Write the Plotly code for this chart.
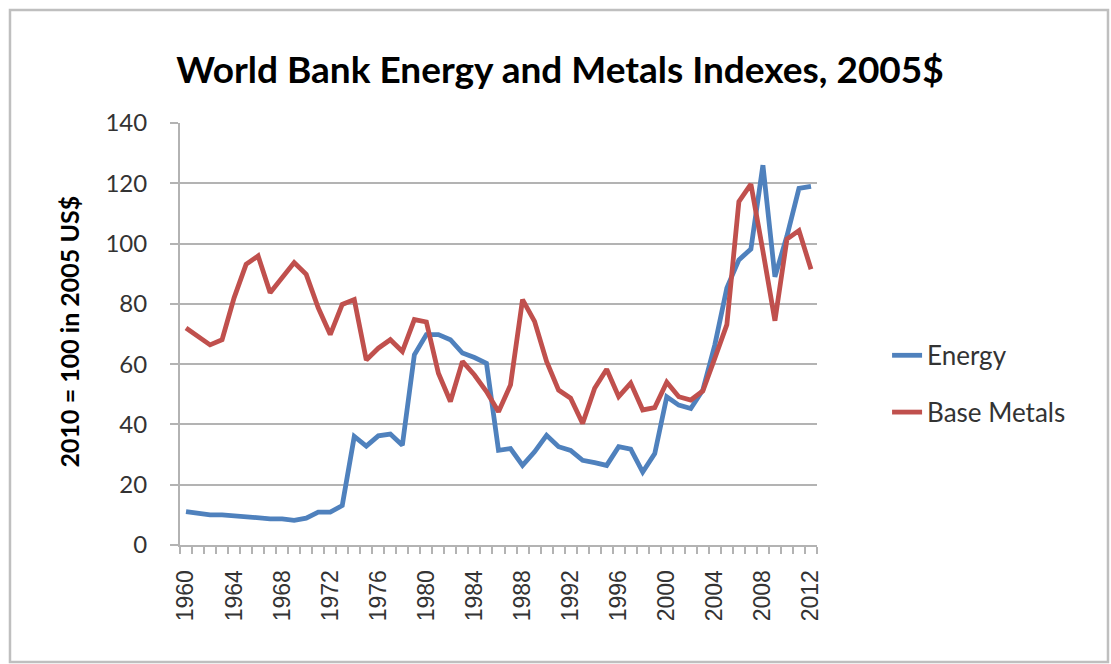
import plotly.graph_objects as go

years = list(range(1960, 2013))

energy = [11.1, 10.5, 10.0, 10.0, 9.6, 9.3, 8.8, 8.7, 8.7, 8.2,
          8.9, 10.9, 10.9, 13.1, 36.0, 32.8, 36.2, 36.8, 33.1, 63.1,
          69.8, 69.8, 68.1, 63.7, 62.2, 60.3, 31.4, 32.0, 26.4, 30.9,
          36.4, 32.6, 31.4, 28.1, 27.3, 26.4, 32.6, 31.8, 24.2, 30.3,
          49.2, 46.4, 45.3, 51.4, 66.4, 85.3, 94.6, 98.2, 126.0, 89.0,
          102.5, 118.3, 119.0]

base_metals = [72.0, 69.2, 66.4, 68.1, 82.0, 93.1, 95.9, 83.7, 88.7, 93.7,
               89.8, 78.7, 69.8, 79.8, 81.4, 61.4, 65.3, 68.1, 64.2, 74.8,
               74.0, 57.0, 47.6, 60.9, 56.4, 50.9, 44.2, 53.1, 81.4, 74.2,
               60.9, 51.4, 48.7, 40.3, 52.0, 58.3, 49.2, 53.7, 44.8, 45.6,
               54.0, 49.2, 48.1, 51.1, 62.0, 73.1, 113.9, 119.7, 97.5, 74.4,
               101.5, 104.3, 91.5]

x_tick_years = list(range(1960, 2013, 4))
x_tick_labels = [str(y) for y in x_tick_years]
y_ticks = list(range(0, 141, 20))

title_text = "World Bank Energy and Metals Indexes, 2005$"
y_title_text = "2010 = 100 in 2005 US$"

fig = go.Figure()
fig.add_trace(go.Scatter(x=years, y=energy, mode="lines", name="Energy",
                         legendgroup="a",
                         line=dict(color="#4f81bd", width=4.8)))
fig.add_trace(go.Scatter(x=years, y=base_metals, mode="lines", name="Base Metals",
                         legendgroup="b",
                         line=dict(color="#c0504d", width=4.8)))

grid_c = "#b3b3b3"
fig.update_layout(
    width=1111, height=664,
    margin=dict(l=180, r=294, t=123, b=119),
    paper_bgcolor="white", plot_bgcolor="white",
    title=dict(text=title_text, x=0.504, xanchor="center", y=0.895, yanchor="middle",
               font=dict(family="Lato", size=37, color="black", weight="bold")),
    showlegend=True,
    legend=dict(x=1.11, xanchor="left", y=0.505, yanchor="top",
                font=dict(family="Lato", size=26, color="#333333"),
                traceorder="grouped", tracegroupgap=20,
                bgcolor="rgba(0,0,0,0)"),
    xaxis=dict(range=[1959.5, 2012.5], tickmode="array", tickvals=x_tick_years,
               ticktext=x_tick_labels, tickangle=-90, ticks="",
               ticklabelstandoff=14,
               tickfont=dict(family="Liberation Sans", size=23, color="#333333"),
               showgrid=False, showline=True, linecolor=grid_c, linewidth=2,
               zeroline=False,
               minor=dict(tickmode="linear", tick0=1959.5, dtick=1, ticks="outside",
                          ticklen=7, tickcolor=grid_c, tickwidth=1.5, showgrid=False)),
    yaxis=dict(range=[0, 140], tickmode="array", tickvals=y_ticks,
               ticks="outside", ticklen=8, tickcolor=grid_c, tickwidth=1.5,
               ticklabelstandoff=18,
               tickfont=dict(family="Lato", size=24, color="#333333"),
               showgrid=True, gridcolor=grid_c, gridwidth=2,
               showline=True, linecolor=grid_c, linewidth=2, zeroline=False),
    annotations=[dict(text=y_title_text, textangle=-90, xref="paper", yref="paper",
                      x=-0.175, y=0.505, xanchor="center", yanchor="middle",
                      showarrow=False,
                      font=dict(family="Lato", size=25, color="black", weight="bold"))],
    shapes=[dict(type="rect", xref="paper", yref="paper",
                 x0=-0.2669, x1=1.4568, y0=-0.2773, y1=1.2678,
                 line=dict(color="#bfbfbf", width=2.5), layer="below")],
)

fig.write_html("out.html")
